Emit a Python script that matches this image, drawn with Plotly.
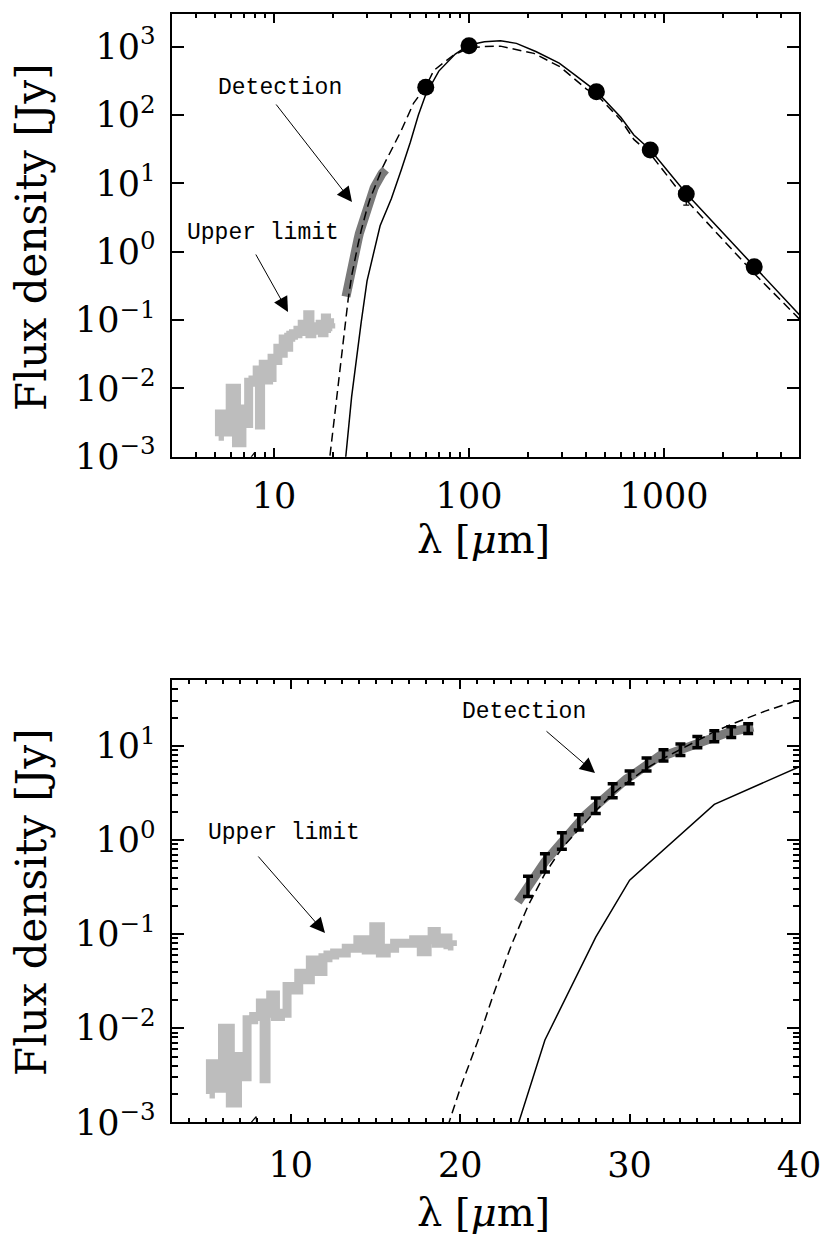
import plotly.graph_objects as go

# ---------------- data ----------------
# Upper-limit spectrum (light grey)
ul_lam = [5.2, 5.3, 5.75, 6.18, 6.67, 7.03, 7.27, 7.56, 8.05, 8.35, 8.49, 8.58, 9.04, 9.14,
          9.63, 9.92, 10.32, 10.61, 11.0, 11.3, 11.7, 12.09, 12.29, 12.88, 13.66, 14.25,
          14.65, 15.14, 15.43, 15.83, 16.42, 17.0, 17.5, 17.9, 18.19, 18.49, 18.68, 19.08,
          19.47, 19.6]
ul_flux = [2.0e-3, 4.2e-3, 2.3e-3, 1.0e-2, 1.6e-3, 5.0e-3, 3.05e-3, 1.23e-2, 1.33e-2,
           1.85e-2, 2.9e-3, 1.44e-2, 2.26e-2, 1.33e-2, 1.44e-2, 2.77e-2, 2.55e-2, 3.85e-2,
           3.27e-2, 5.3e-2, 4.0e-2, 5.6e-2, 6.0e-2, 6.3e-2, 7.1e-2, 8.7e-2, 6.8e-2, 0.12,
           0.063, 0.071, 0.080, 0.080, 0.087, 0.065, 0.087, 0.107, 0.080, 0.091, 0.077, 0.075]

# Detection spectrum (dark grey)
det_lam = [23.4, 23.8, 24.2, 24.6, 25.0, 25.4, 25.8, 26.2, 26.6, 27.0, 27.4, 27.8, 28.2,
           28.6, 29.0, 29.4, 29.8, 30.2, 30.6, 31.0, 31.4, 31.8, 32.2, 32.6, 33.0, 33.4,
           33.8, 34.2, 34.6, 35.0, 35.4, 35.8, 36.2, 36.6, 37.0, 37.3]
det_flux = [0.22, 0.29, 0.37, 0.46, 0.59, 0.72, 0.90, 1.08, 1.30, 1.55, 1.85, 2.15, 2.50,
            2.95, 3.40, 3.85, 4.45, 4.95, 5.6, 6.4, 7.2, 7.9, 8.1, 8.6, 9.2, 10.1, 10.7,
            11.4, 12.2, 12.7, 13.2, 13.9, 14.4, 14.9, 15.4, 15.9]

# Binned detection points with error bars (bottom panel)
bin_lam = [24, 25, 26, 27, 28, 29, 30, 31, 32, 33, 34, 35, 36, 37]
bin_flux = [0.332, 0.588, 1.0, 1.57, 2.36, 3.40, 4.71, 6.44, 8.02, 9.22, 11.1, 12.8, 14.2, 15.4]
bin_err = [0.08, 0.13, 0.2, 0.29, 0.44, 0.58, 0.73, 1.0, 1.1, 1.3, 1.5, 1.7, 1.85, 1.85]

# Photometry (filled circles)
phot_lam = [60, 100, 450, 850, 1300, 2900]
phot_flux = [255, 1030, 219, 30.7, 7.0, 0.60]
phot_err = [25, 100, 20, 3, 2.2, 0.06]

# Model 1 (solid)
mod_lam = [20, 25, 28, 30, 35, 40, 45, 50, 55, 60, 70, 85, 100, 120, 145, 175, 220, 290,
           350, 450, 600, 700, 850, 1300, 2900, 5000]
mod_solid = [1.1e-5, 7.5e-3, 0.093, 0.375, 2.4, 6.0, 16, 40, 100, 200, 440, 780, 1060,
             1185, 1225, 1120, 850, 575, 383, 222, 93, 51, 31, 7.1, 0.61, 0.115]

# Model 2 (dashed)
dmod_lam = [19, 20, 21, 22, 23, 24, 25, 26, 27, 28, 29, 30, 31, 32, 33, 34, 35, 36, 37, 38,
            39, 40, 45, 52, 60, 66, 83, 100, 120, 145, 215, 293, 400, 450, 600, 700, 850,
            1300, 2900, 5000]
mod_dashed = [6.5e-4, 2.3e-3, 7e-3, 0.024, 0.075, 0.2, 0.44, 0.82, 1.3, 2.05, 3.1, 4.3,
              5.8, 7.4, 9.2, 11.4, 14.2, 17, 20, 23.5, 27, 30.8, 60, 150, 260, 450, 750,
              960, 1010, 1020, 800, 509, 240, 200, 85, 44, 27, 5.7, 0.48, 0.1]

# Faint third curve that only peeks above the axis floor near 8 micron
stub_lam = [7.45, 7.95, 8.0]
stub_flux = [9e-4, 1.15e-3, 9e-4]

# Tick labels
top_xtick = [10, 100, 1000]
top_ytick = [1e-3, 1e-2, 1e-1, 1e0, 1e1, 1e2, 1e3]
top_ytext = ["10<sup>\u22123</sup>", "10<sup>\u22122</sup>", "10<sup>\u22121</sup>",
             "10<sup>0</sup>", "10<sup>1</sup>", "10<sup>2</sup>", "10<sup>3</sup>"]
bot_xtick = [10, 20, 30, 40]
bot_ytick = [1e-3, 1e-2, 1e-1, 1e0, 1e1]
bot_ytext = top_ytext[:5]

# ---------------- figure ----------------
W, H = 825, 1237
SERIF = "DejaVu Serif"
MONO = "Liberation Mono"
LIGHT = "#bdbdbd"
DARK = "#7a7a7a"


def px(x):
    return x / W


def py(y):
    return 1 - y / H


fig = go.Figure()

for xa, ya, show_err in (("x", "y", False), ("x2", "y2", True)):
    fig.add_trace(go.Scatter(x=ul_lam, y=ul_flux, mode="lines", xaxis=xa, yaxis=ya,
                             line=dict(color=LIGHT, width=9, shape="hvh"), showlegend=False))
    fig.add_trace(go.Scatter(x=det_lam, y=det_flux, mode="lines", xaxis=xa, yaxis=ya,
                             line=dict(color=DARK, width=9), showlegend=False))
    fig.add_trace(go.Scatter(x=dmod_lam, y=mod_dashed, mode="lines", xaxis=xa, yaxis=ya,
                             line=dict(color="black", width=1.5, dash="9px,5px"),
                             showlegend=False))
    fig.add_trace(go.Scatter(x=mod_lam, y=mod_solid, mode="lines", xaxis=xa, yaxis=ya,
                             line=dict(color="black", width=1.5), showlegend=False))
    fig.add_trace(go.Scatter(x=stub_lam, y=stub_flux, mode="lines", xaxis=xa, yaxis=ya,
                             line=dict(color="black", width=1.2), showlegend=False))
    if show_err:
        fig.add_trace(go.Scatter(x=bin_lam, y=bin_flux, mode="markers", xaxis=xa, yaxis=ya,
                                 marker=dict(size=1, color="black", opacity=0),
                                 error_y=dict(type="data", array=bin_err, color="black",
                                              thickness=3.5, width=5),
                                 showlegend=False))
    else:
        fig.add_trace(go.Scatter(x=phot_lam, y=phot_flux, mode="markers", xaxis=xa, yaxis=ya,
                                 marker=dict(size=17, color="black"),
                                 error_y=dict(type="data", array=phot_err, color="black",
                                              thickness=1.2, width=3),
                                 showlegend=False))

axis_common = dict(showline=True, linecolor="black", linewidth=1.5, mirror="allticks",
                   ticks="inside", tickcolor="black", tickwidth=1.5, showgrid=False,
                   zeroline=False, automargin=False,
                   tickfont=dict(family=SERIF, size=35, color="black"))

top_xminor = [v * d for d in (1, 10, 100, 1000) for v in range(2, 10)
              if 3 <= v * d <= 5000]
bot_yminor = [v * d for d in (1e-3, 1e-2, 1e-1, 1, 10) for v in range(2, 10)
              if v * d <= 50]
bot_xminor = [v for v in range(4, 40) if v % 10 != 0]

xdom = [px(172.3), px(799)]

fig.update_layout(
    autosize=True, margin=dict(l=0, r=0, t=0, b=0, pad=0),
    paper_bgcolor="white", plot_bgcolor="white",
    xaxis=dict(axis_common, type="log", range=[0.4785, 3.692], domain=xdom, anchor="y",
               tickmode="array", tickvals=top_xtick, ticktext=[str(v) for v in top_xtick],
               ticklen=9, ticklabelstandoff=8,
               minor=dict(tickmode="array", tickvals=top_xminor, ticks="inside",
                          ticklen=4.5, tickwidth=1.5, tickcolor="black", showgrid=False)),
    yaxis=dict(axis_common, type="log", range=[-3, 3.479], domain=[py(456.7), py(14)],
               anchor="x", tickmode="array", tickvals=top_ytick, ticktext=top_ytext,
               ticklen=12, ticklabelstandoff=8),
    xaxis2=dict(axis_common, type="linear", range=[3, 40], domain=xdom, anchor="y2",
                tickmode="array", tickvals=bot_xtick, ticktext=[str(v) for v in bot_xtick],
                ticklen=9, ticklabelstandoff=11,
                minor=dict(tickmode="array", tickvals=bot_xminor, ticks="inside",
                           ticklen=4.5, tickwidth=1.5, tickcolor="black", showgrid=False)),
    yaxis2=dict(axis_common, type="log", range=[-3, 1.702], domain=[py(1122.3), py(680)],
                anchor="x2", tickmode="array", tickvals=bot_ytick, ticktext=bot_ytext,
                ticklen=12, ticklabelstandoff=8,
                minor=dict(tickmode="array", tickvals=bot_yminor, ticks="inside",
                           ticklen=6, tickwidth=1.5, tickcolor="black", showgrid=False)),
)

ann = []
# axis titles
for yc in (237, 902):
    ann.append(dict(x=px(31), y=py(yc), xref="paper", yref="paper", text="Flux density [Jy]",
                    textangle=-90, showarrow=False, xanchor="center", yanchor="middle",
                    font=dict(family=SERIF, size=42, color="black")))
for yc in (539, 1212):
    ann.append(dict(x=px(483), y=py(yc), xref="paper", yref="paper",
                    text="\u03bb [<i>\u03bc</i>m]", showarrow=False, xanchor="center",
                    yanchor="middle", font=dict(family=SERIF, size=40, color="black")))

# labels with arrows: (text, text centre, arrow tail, arrow tip)
labels = [
    ("Detection", (280, 88), (275, 103), (352, 202)),
    ("Upper limit", (263, 233), (255, 253), (288, 312)),
    ("Detection", (524, 712), (545, 730), (595, 773)),
    ("Upper limit", (284, 833), (257, 855), (325, 933)),
]
for text, (tx, ty), (ax0, ay0), (x1, y1) in labels:
    ann.append(dict(x=px(tx), y=py(ty), xref="paper", yref="paper", text=text,
                    showarrow=False, xanchor="center", yanchor="middle",
                    font=dict(family=MONO, size=23, color="black")))
    ann.append(dict(x=px(x1), y=py(y1), xref="paper", yref="paper", text="",
                    showarrow=True, ax=ax0 - x1, ay=ay0 - y1, arrowhead=2, arrowsize=3,
                    arrowwidth=1, arrowcolor="black", standoff=0))

fig.update_layout(annotations=ann)

fig.write_html(
    "out.html",
    default_width="100vw",
    default_height="100vh",
    config={"displayModeBar": False, "responsive": True},
    post_script=("document.documentElement.style.margin='0';"
                 "document.documentElement.style.overflow='hidden';"
                 "document.body.style.margin='0';document.body.style.overflow='hidden';"
                 "window.dispatchEvent(new Event('resize'));"),
)
